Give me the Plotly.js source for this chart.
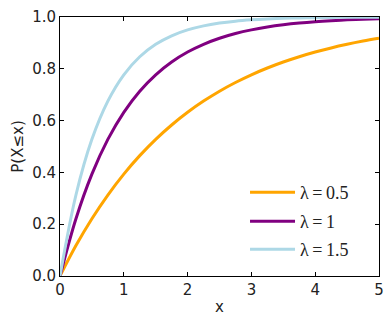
<!DOCTYPE html>
<html><head><meta charset="utf-8">
<script src="https://cdn.plot.ly/plotly-3.0.1.min.js"></script>
<style>html,body{margin:0;padding:0;background:#fff}</style>
</head><body><div id="c" style="width:392px;height:316px"></div>
<script>
const xs = [0,0.25,0.5,0.75,1,1.25,1.5,1.75,2,2.25,2.5,2.75,3,3.25,3.5,3.75,4,4.25,4.5,4.75,5];
const cdf05 = [0,0.1175,0.2212,0.3127,0.3935,0.4647,0.5276,0.5831,0.6321,0.6753,0.7135,0.7472,0.7769,0.8031,0.8262,0.8466,0.8647,0.8806,0.8946,0.9070,0.9179];
const cdf10 = [0,0.2212,0.3935,0.5276,0.6321,0.7135,0.7769,0.8262,0.8647,0.8946,0.9179,0.9361,0.9502,0.9612,0.9698,0.9765,0.9817,0.9857,0.9889,0.9913,0.9933];
const cdf15 = [0,0.3127,0.5276,0.6753,0.7769,0.8466,0.8946,0.9275,0.9502,0.9658,0.9765,0.9839,0.9889,0.9924,0.9948,0.9964,0.9975,0.9983,0.9988,0.9992,0.9994];
const names = ['λ\u2009=\u20090.5','λ\u2009=\u20091','λ\u2009=\u20091.5'];
const colors = ['#FFA500','#800080','#ADD8E6'];
const series = [cdf05, cdf10, cdf15];
const legends = ['legend','legend2','legend3'];
const traces = series.map((s,i)=>({x:xs,y:s,type:'scatter',mode:'lines',name:names[i],
  line:{color:colors[i],width:3,shape:'spline',smoothing:1.0},legend:legends[i],showlegend:true}));
const ax = {showline:true,linecolor:'#000',linewidth:1,mirror:'ticks',ticks:'inside',ticklen:4,tickcolor:'#000',
  showgrid:false,zeroline:false,tickfont:{family:'DejaVu Sans',size:15,color:'#222'}};
const legBase = {xanchor:'left',yanchor:'middle',bgcolor:'rgba(255,255,255,0)',borderwidth:0,
  font:{family:'Liberation Serif',size:18,color:'#222'},itemwidth:45};
const layout = {width:392,height:316,margin:{l:60,r:13,t:17,b:40},paper_bgcolor:'#fff',plot_bgcolor:'#fff',
  xaxis:Object.assign({},ax,{range:[0,5],dtick:1,title:{text:'x',font:{family:'DejaVu Sans',size:15,color:'#222'},standoff:6}}),
  yaxis:Object.assign({},ax,{range:[0,1],dtick:0.2,tickformat:'.1f',title:{text:'P(X≤x)',font:{family:'DejaVu Sans',size:15,color:'#222'},standoff:4}}),
  legend:Object.assign({},legBase,{x:0.58,y:0.322}),
  legend2:Object.assign({},legBase,{x:0.58,y:0.21}),
  legend3:Object.assign({},legBase,{x:0.58,y:0.102}),
};
Plotly.newPlot('c',traces,layout,{displayModeBar:false,staticPlot:true});
</script></body></html>
